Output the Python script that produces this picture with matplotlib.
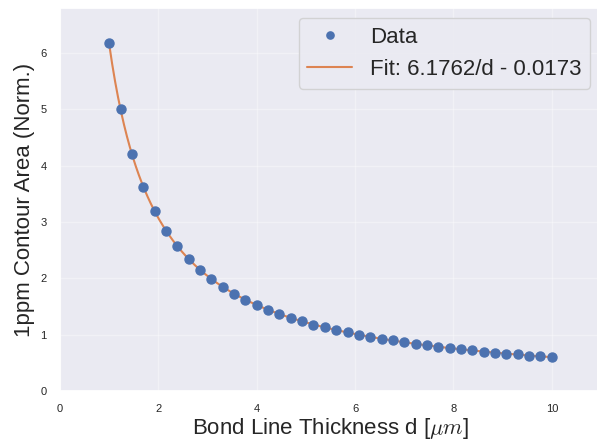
import numpy as np
import matplotlib
matplotlib.use("Agg")
import matplotlib.pyplot as plt
import seaborn as sns

sns.set_theme(style="darkgrid")
plt.rcParams['font.family'] = ['Liberation Sans', 'DejaVu Sans']
plt.rcParams['mathtext.fontset'] = 'cm'

thickness = [1.000, 1.231, 1.462, 1.692, 1.923, 2.154, 2.385, 2.615, 2.846, 3.077,
             3.308, 3.538, 3.769, 4.000, 4.231, 4.462, 4.692, 4.923, 5.154, 5.385,
             5.615, 5.846, 6.077, 6.308, 6.538, 6.769, 7.000, 7.231, 7.462, 7.692,
             7.923, 8.154, 8.385, 8.615, 8.846, 9.077, 9.308, 9.538, 9.769, 10.000]
area = [6.18, 5.01, 4.21, 3.63, 3.19, 2.84, 2.57, 2.34, 2.15, 1.99,
        1.85, 1.73, 1.62, 1.53, 1.44, 1.37, 1.30, 1.24, 1.18, 1.13,
        1.08, 1.04, 1.00, 0.96, 0.93, 0.90, 0.87, 0.84, 0.81, 0.79,
        0.76, 0.74, 0.72, 0.70, 0.68, 0.66, 0.65, 0.63, 0.62, 0.60]
FIT_A = 6.1762
FIT_B = 0.0173

fig = plt.figure(figsize=(5.97, 4.41), dpi=100)
ax = fig.add_axes([60/597, 1 - 391/441, (601-60)/597, (391-8)/441])

d_fit = np.linspace(min(thickness), max(thickness), 300)
ax.plot(thickness, area, 'o', color='#4c72b0', ms=6.5, label='Data', zorder=3)
ax.plot(d_fit, FIT_A / d_fit - FIT_B, '-', color='#dd8452', lw=1.5,
        label=f'Fit: {FIT_A:.4f}/d - {FIT_B:.4f}', zorder=2)

ax.grid(True, color='white', alpha=0.35, lw=1)
ax.set_xlim(0, 11)
ax.set_ylim(0, 6.8)
ax.set_xticks([0, 2, 4, 6, 8, 10])
ax.set_yticks([0, 1, 2, 3, 4, 5, 6])
ax.tick_params(labelsize=8)
ax.set_xlabel(r'Bond Line Thickness d [$\mu m$]', fontsize=16, labelpad=1)
ax.set_ylabel('1ppm Contour Area (Norm.)', fontsize=16)
ax.legend(loc='upper right', fontsize=16, bbox_to_anchor=(0.9797, 0.974),
          borderaxespad=0, markerscale=0.8)

fig.savefig('out.png', dpi=100)
